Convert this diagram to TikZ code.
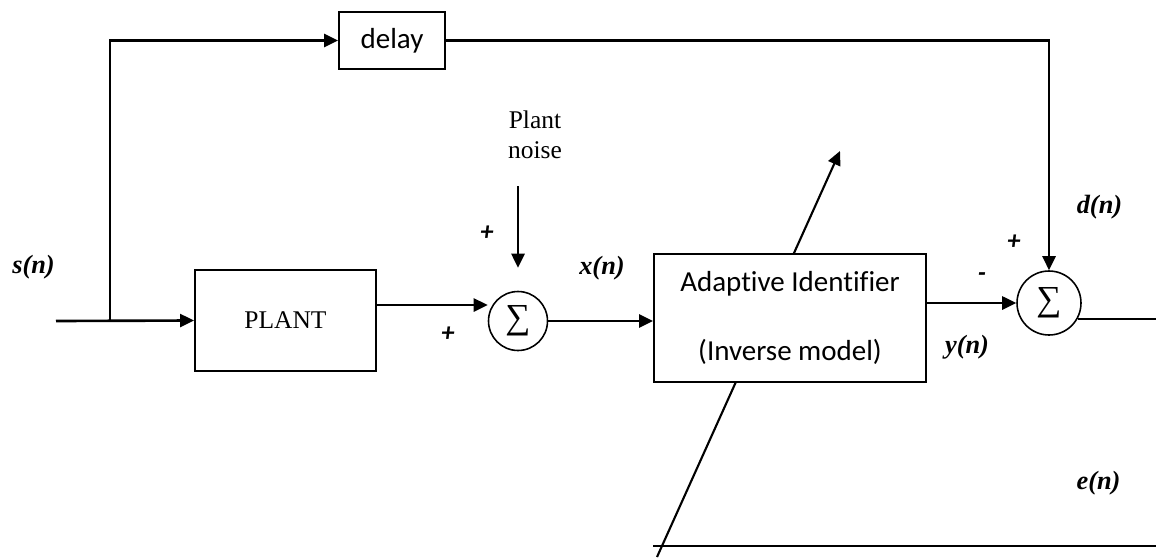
\documentclass[tikz,border=0pt]{standalone}
\usepackage{fontspec}
\setmainfont{Liberation Serif}
\newfontfamily\calibri[Ligatures=CommonOff]{Carlito}
\usepackage{tikz}
\usetikzlibrary{arrows.meta,positioning,calc}

\begin{document}
\begin{tikzpicture}[
    x=0.02cm, y=-0.02cm,
    block/.style={
        rectangle,
        draw,
        line width=1.1pt,
        fill=white,
        align=center,
        inner sep=0pt
    },
    sumnode/.style={
        circle,
        draw,
        line width=0.9pt,
        fill=white,
        inner sep=0pt,
        font=\fontsize{20}{22}\selectfont
    },
    arrow/.style={
        -{Triangle[length=2.8mm,width=2.6mm]},
        line width=1.5pt
    },
    signal/.style={font=\fontsize{15}{18}\selectfont\bfseries\itshape},
    sign/.style={font=\calibri\fontsize{15}{18}\selectfont\bfseries\itshape}
]
\useasboundingbox (0,0) rectangle (1156,558);

% AJUSTE (DETRAS DEL BLOQUE)
\coordinate (adjlow) at (657,557);
\coordinate (adjtip) at (840,151);
\draw[arrow, line width=1.2pt] (adjlow) -- (adjtip);

% BLOQUES
\node[block, minimum width=2.12cm, minimum height=1.14cm,
      font=\calibri\fontsize{16.5}{19}\selectfont] (delay) at (392,40.5) {delay};

\node[block, minimum width=3.62cm, minimum height=2.02cm,
      font=\fontsize{14.5}{17}\selectfont] (plant) at (285.5,320.5) {PLANT};

\node[block, minimum width=5.44cm, minimum height=2.56cm,
      font=\calibri\fontsize{16.5}{19}\selectfont] (adapt) at (790,318)
{
Adaptive Identifier\\[7.2mm]
(Inverse model)
};

\node[sumnode, minimum size=1.18cm] (sum1) at (518,321) {∑};
\node[sumnode, minimum size=1.28cm] (sum2) at (1049,303) {∑};

\node[align=center, font=\fontsize{14.5}{17}\selectfont] (noise) at (535,135)
{
Plant\\
noise
};

% PUNTOS LIBRES
\coordinate (in) at (56,321);
\coordinate (branch) at (110,321);
\coordinate (eout) at (1156,318);
\coordinate (ebl) at (653,546);
\coordinate (ebr) at (1156,546);

% FLECHAS
\draw[arrow] (in) -- (plant.west);
\draw[arrow] (branch) |- (delay.west);
\draw[arrow] (delay.east) -| (sum2.north);

\draw[arrow] ([yshift=0.31cm]plant.east) -- ([yshift=0.31cm]plant.east -| sum1.west);
\draw[arrow, shorten <=0.42cm, shorten >=0.46cm] (noise.south -| sum1.north) -- (sum1.north);
\draw[arrow] (sum1.east) -- (sum1.east -| adapt.west);

\draw[arrow] (sum2.west -| adapt.east) -- (sum2.west);
\draw[line width=1.3pt] (sum2.-29) -- (sum2.-29 -| eout);
\draw[line width=1.3pt] (ebl) -- (ebr);

% ETIQUETAS
\node[signal] (sn) at (33.5,267) {s(n)};
\node[signal] (xn) at (602,268) {x(n)};
\node[signal] (yn) at (967,347) {y(n)};
\node[signal] (dn) at (1099.5,207) {d(n)};
\node[signal] (en) at (1098.5,483) {e(n)};

\node[sign] (pnoise) at (487,233) {+};
\node[sign] (pplant) at (448,334) {+};
\node[sign] (pdes) at (1014,242) {+};
\node[sign] (mout) at (982,277) {-};

\end{tikzpicture}
\end{document}
